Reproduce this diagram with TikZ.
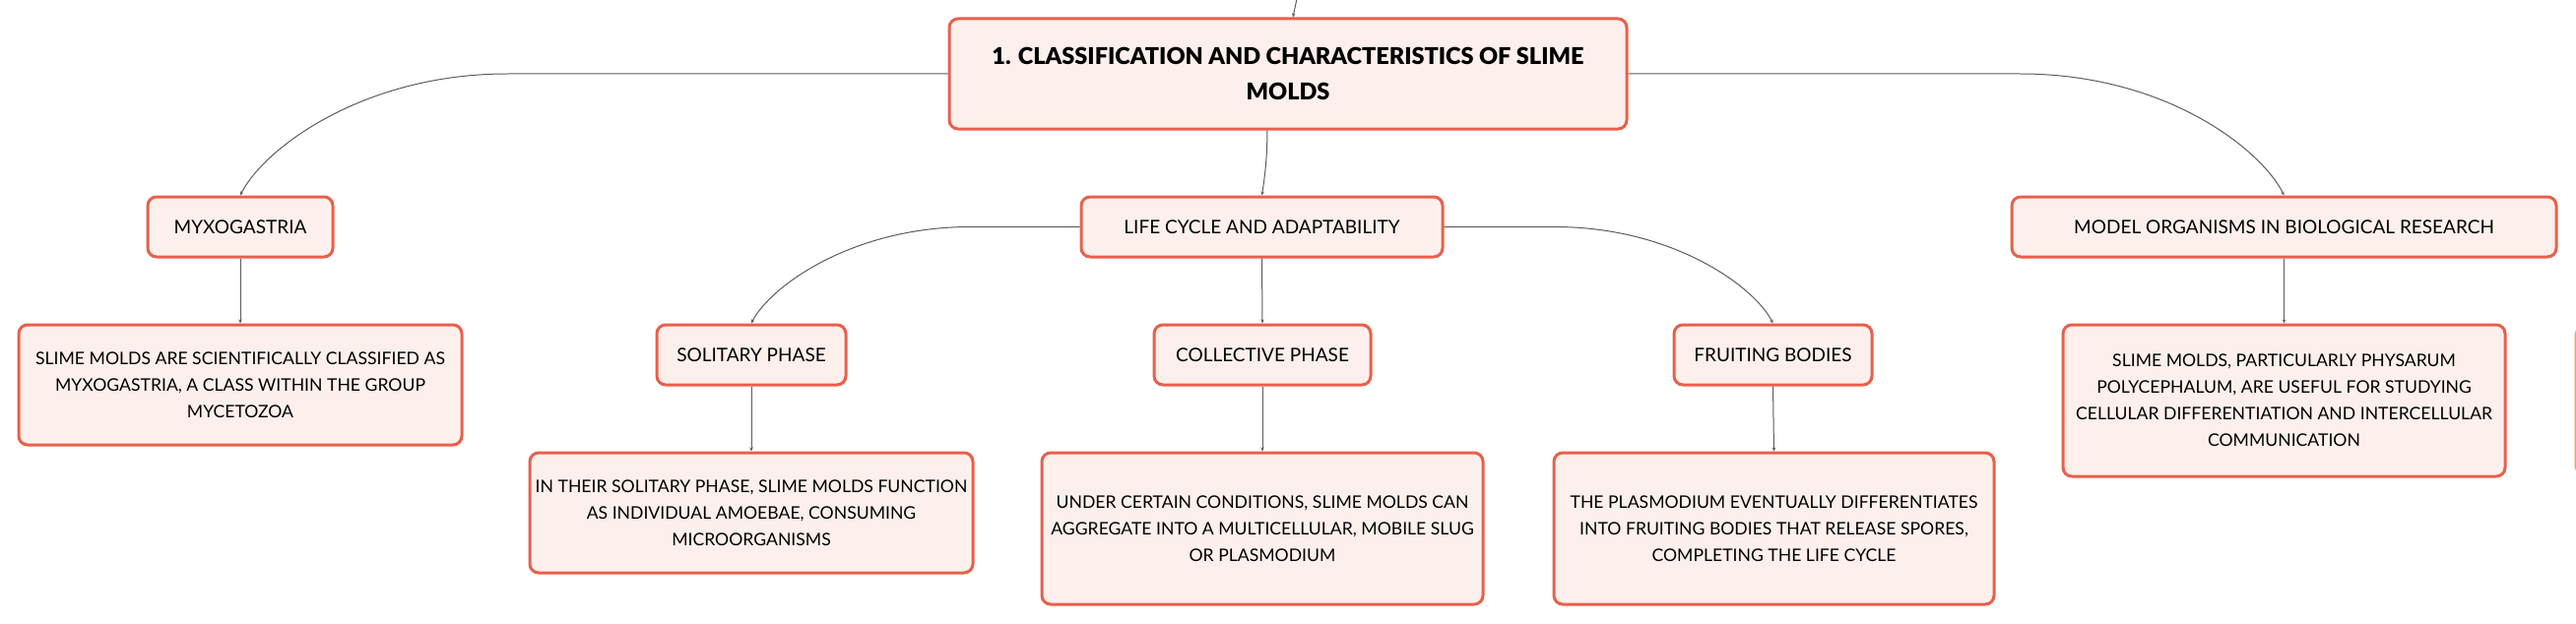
\documentclass[tikz,border=0pt]{standalone}
\usepackage{fontspec}
\setmainfont{Lato}
\newfontfamily\titlefont{Lato Black}
\usetikzlibrary{calc,arrows.meta}
\definecolor{bord}{HTML}{E8604C}
\definecolor{boxfill}{HTML}{FDF0EC}
\definecolor{conncol}{HTML}{5C5C5C}
\definecolor{orbord}{HTML}{F0A442}
\definecolor{orfill}{HTML}{FEF4E8}
\begin{document}
\begin{tikzpicture}[x=1pt,y=-1pt,
  mmbox/.style={draw=bord, fill=boxfill, line width=3pt, rounded corners=9pt, inner sep=0pt, align=center, font=\fontsize{17.6}{27}\selectfont, text=black},
  smallbox/.style={mmbox, minimum height=61pt, font=\fontsize{19}{27}\selectfont},
  descbox/.style={mmbox},
  conn/.style={draw=conncol, line width=1pt, -{Stealth[length=4pt,width=3.5pt]}},
]
\useasboundingbox (0,0) rectangle (2616,634);
\clip (0,0) rectangle (2616,634);
\fill[white] (0,0) rectangle (2616,634);

% main node
\node[mmbox, minimum width=688pt, minimum height=112pt, font=\fontsize{23.5}{36}\selectfont\titlefont] (main) at (1308,75) {1. CLASSIFICATION AND CHARACTERISTICS OF SLIME\\MOLDS};

% level 1
\node[smallbox, minimum width=188pt] (myxo) at (244,230.5) {MYXOGASTRIA};
\node[smallbox, minimum width=367pt] (life) at (1281.5,230.5) {LIFE CYCLE AND ADAPTABILITY};
\node[smallbox, minimum width=553pt] (model) at (2319.5,230.5) {MODEL ORGANISMS IN BIOLOGICAL RESEARCH};

% level 2
\node[descbox, minimum width=450pt, minimum height=122pt] (myxod) at (244,391) {SLIME MOLDS ARE SCIENTIFICALLY CLASSIFIED AS\\MYXOGASTRIA, A CLASS WITHIN THE GROUP\\MYCETOZOA};
\node[smallbox, minimum width=192pt] (sol) at (763,360.5) {SOLITARY PHASE};
\node[smallbox, minimum width=220pt] (coll) at (1282,360.5) {COLLECTIVE PHASE};
\node[smallbox, minimum width=201pt] (fruit) at (1800.5,360.5) {FRUITING BODIES};
\node[descbox, minimum width=449pt, minimum height=154pt] (modeld) at (2319.5,407) {SLIME MOLDS, PARTICULARLY PHYSARUM\\POLYCEPHALUM, ARE USEFUL FOR STUDYING\\CELLULAR DIFFERENTIATION AND INTERCELLULAR\\COMMUNICATION};

% level 3
\node[descbox, minimum width=450pt, minimum height=122pt] (sold) at (763,521) {IN THEIR SOLITARY PHASE, SLIME MOLDS FUNCTION\\AS INDIVIDUAL AMOEBAE, CONSUMING\\MICROORGANISMS};
\node[descbox, minimum width=448pt, minimum height=154pt] (colld) at (1282,537) {UNDER CERTAIN CONDITIONS, SLIME MOLDS CAN\\AGGREGATE INTO A MULTICELLULAR, MOBILE SLUG\\OR PLASMODIUM};
\node[descbox, minimum width=447pt, minimum height=154pt] (fruitd) at (1801.5,537) {THE PLASMODIUM EVENTUALLY DIFFERENTIATES\\INTO FRUITING BODIES THAT RELEASE SPORES,\\COMPLETING THE LIFE CYCLE};

% partially visible box at right edge
\node[draw=orbord, fill=orfill, line width=3pt, rounded corners=9pt, minimum width=200pt, minimum height=150pt, anchor=west] (nextbox) at (2614.5,407) {};

% connectors
\coordinate (topend) at (1322,-25);
\draw[conn] (topend) -- ($(main.north)+(5,0)$);
\draw[conn] ($(main.south)+(-21,0)$) to[bend left=4] (life.north);

\draw[conn] (main.west) -- ++(-447,0) .. controls +(-150,0) and ($(myxo.north)+(22,-45)$) .. (myxo.north);
\draw[conn] (main.east) -- ++(398,0) .. controls +(150,0) and ($(model.north)+(-22,-45)$) .. (model.north);

\draw[conn] (life.west) -- ++(-111,0) .. controls +(-122,0) and ($(sol.north)+(18,-36)$) .. (sol.north);
\draw[conn] (life.east) -- ++(112,0) .. controls +(122,0) and ($(fruit.north)+(-18,-36)$) .. (fruit.north);
\draw[conn] (life.south) -- (coll.north);

\draw[conn] (myxo.south) -- (myxod.north);
\draw[conn] (sol.south) -- (sold.north);
\draw[conn] (coll.south) -- (colld.north);
\draw[conn] (fruit.south) -- (fruitd.north);
\draw[conn] (model.south) -- (modeld.north);
\end{tikzpicture}
\end{document}
